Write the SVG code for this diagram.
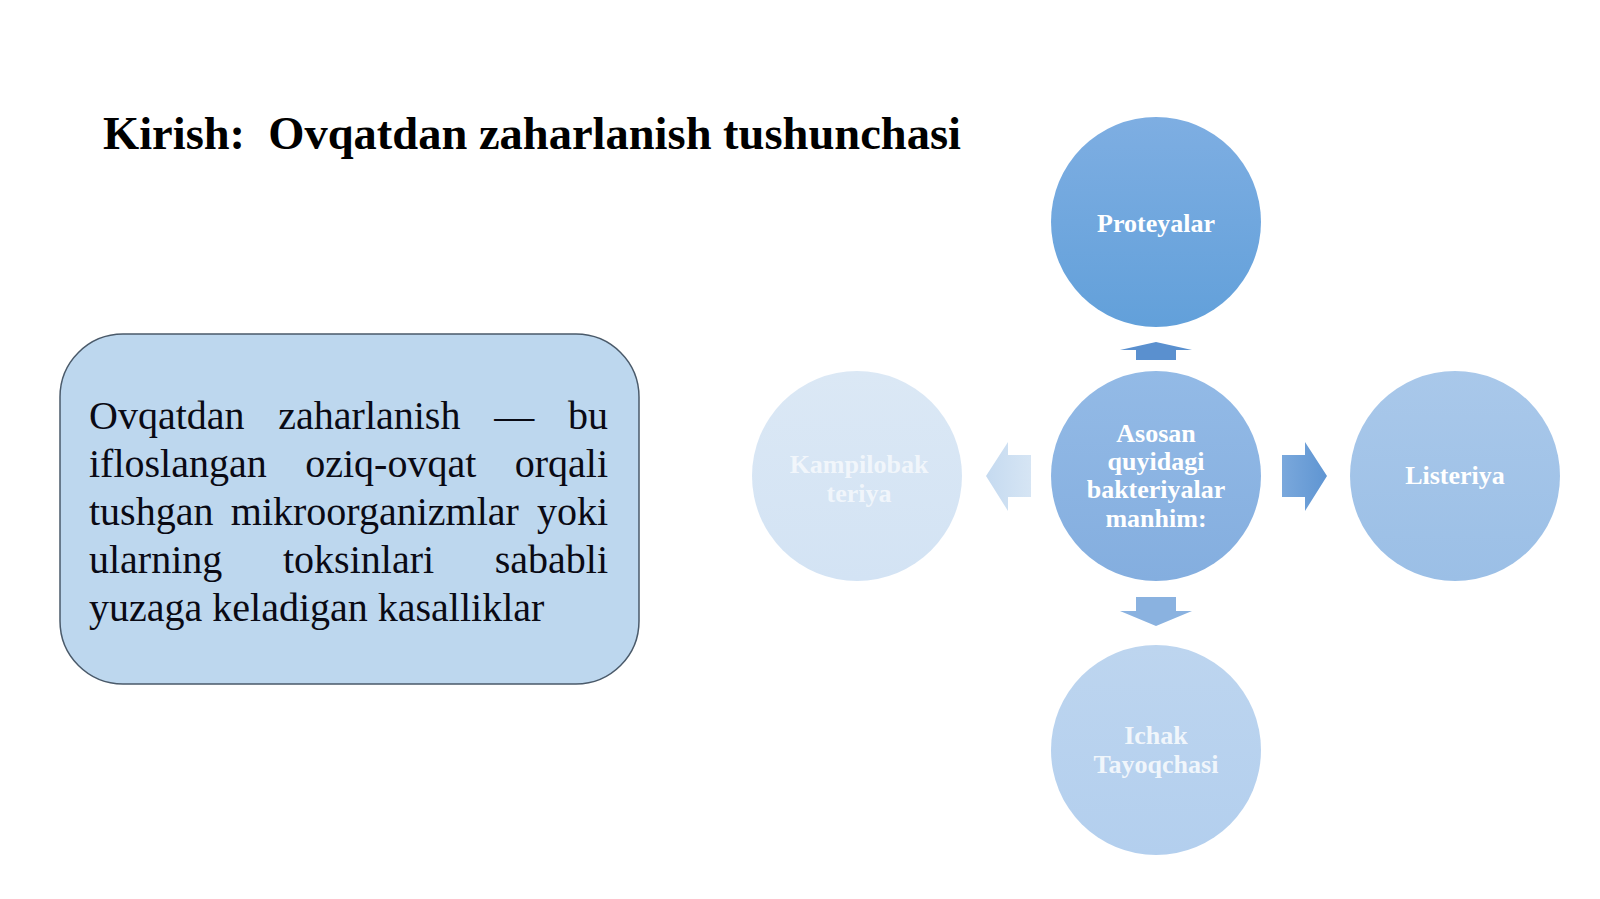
<svg xmlns="http://www.w3.org/2000/svg" width="1600" height="899" viewBox="0 0 1600 899">
<defs>
<style>
.title{font-family:"Liberation Serif",serif;font-weight:bold;font-size:46.5px;fill:#000}
.body{font-family:"Liberation Serif",serif;font-size:40px;fill:#0a0a14}
.r{text-anchor:end}
.ct{font-family:"Liberation Serif",serif;font-weight:bold;font-size:26px;fill:#fff;text-anchor:middle}
</style>
<linearGradient id="g1" x1="0" y1="0" x2="0" y2="1"><stop offset="0" stop-color="#7eaee2"/><stop offset="1" stop-color="#62a0da"/></linearGradient>
<linearGradient id="g2" x1="0" y1="0" x2="0" y2="1"><stop offset="0" stop-color="#93bae6"/><stop offset="1" stop-color="#84aedf"/></linearGradient>
<linearGradient id="g3" x1="0" y1="0" x2="0" y2="1"><stop offset="0" stop-color="#a9c8ea"/><stop offset="1" stop-color="#9bbfe6"/></linearGradient>
<linearGradient id="g4" x1="0" y1="0" x2="0" y2="1"><stop offset="0" stop-color="#bdd5ef"/><stop offset="1" stop-color="#b3cfee"/></linearGradient>
<linearGradient id="g5" x1="0" y1="0" x2="0" y2="1"><stop offset="0" stop-color="#dbe8f5"/><stop offset="1" stop-color="#d3e3f4"/></linearGradient>
<linearGradient id="ar" x1="0" y1="0" x2="1" y2="0"><stop offset="0" stop-color="#7aa8dc"/><stop offset="1" stop-color="#5f95d2"/></linearGradient>
<linearGradient id="al" x1="0" y1="0" x2="1" y2="0"><stop offset="0" stop-color="#c5daf0"/><stop offset="1" stop-color="#d6e5f4"/></linearGradient>
</defs>
<rect width="1600" height="899" fill="#fff"/>
<text class="title" x="103" y="149" xml:space="preserve">Kirish:  Ovqatdan zaharlanish tushunchasi</text>

<g id="definition">
<rect x="60" y="334" width="579" height="350" rx="63" fill="#bdd7ee" stroke="#4a5a6a" stroke-width="1.5"/>
<text class="body" x="89" y="428.5">Ovqatdan</text>
<text class="body" x="278.3" y="428.5">zaharlanish</text>
<text class="body" x="494.3" y="428.5">—</text>
<text class="body r" x="608" y="428.5">bu</text>
<text class="body" x="89" y="476.5">ifloslangan</text>
<text class="body" x="305.2" y="476.5">oziq-ovqat</text>
<text class="body r" x="608" y="476.5">orqali</text>
<text class="body" x="89" y="524.5">tushgan</text>
<text class="body" x="230.8" y="524.5">mikroorganizmlar</text>
<text class="body r" x="608" y="524.5">yoki</text>
<text class="body" x="89" y="572.5">ularning</text>
<text class="body" x="283" y="572.5">toksinlari</text>
<text class="body r" x="608" y="572.5">sababli</text>
<text class="body" x="89" y="620.5">yuzaga keladigan kasalliklar</text>
</g>

<g id="connectors">
<path d="M1136,360 L1136,350 L1120,350 L1156,342 L1192,350 L1176,350 L1176,360 Z" fill="#5a90cf"/>
<path d="M1282,455 L1305,455 L1305,442 L1327,476 L1305,511 L1305,497 L1282,497 Z" fill="url(#ar)"/>
<path d="M1031,455 L1008,455 L1008,442 L986,476 L1008,511 L1008,497 L1031,497 Z" fill="url(#al)"/>
<path d="M1136,597 L1176,597 L1176,611 L1192,611 L1156,626 L1120,611 L1136,611 Z" fill="#8ab2e0"/>
</g>

<g id="proteyalar">
<circle cx="1156" cy="222" r="105" fill="url(#g1)"/>
<text class="ct" x="1156" y="232">Proteyalar</text>
</g>
<g id="center">
<circle cx="1156" cy="476" r="105" fill="url(#g2)"/>
<text class="ct" x="1156" y="442">Asosan</text>
<text class="ct" x="1156" y="470">quyidagi</text>
<text class="ct" x="1156" y="498">bakteriyalar</text>
<text class="ct" x="1156" y="527">manhim:</text>
</g>
<g id="listeriya">
<circle cx="1455" cy="476" r="105" fill="url(#g3)"/>
<text class="ct" x="1455" y="484">Listeriya</text>
</g>
<g id="ichak">
<circle cx="1156" cy="750" r="105" fill="url(#g4)"/>
<text class="ct" x="1156" y="744" opacity="0.8">Ichak</text>
<text class="ct" x="1156" y="773" opacity="0.8">Tayoqchasi</text>
</g>
<g id="kampilobakteriya">
<circle cx="857" cy="476" r="105" fill="url(#g5)"/>
<text class="ct" x="859" y="473" opacity="0.65">Kampilobak</text>
<text class="ct" x="859" y="502" opacity="0.65">teriya</text>
</g>
</svg>
